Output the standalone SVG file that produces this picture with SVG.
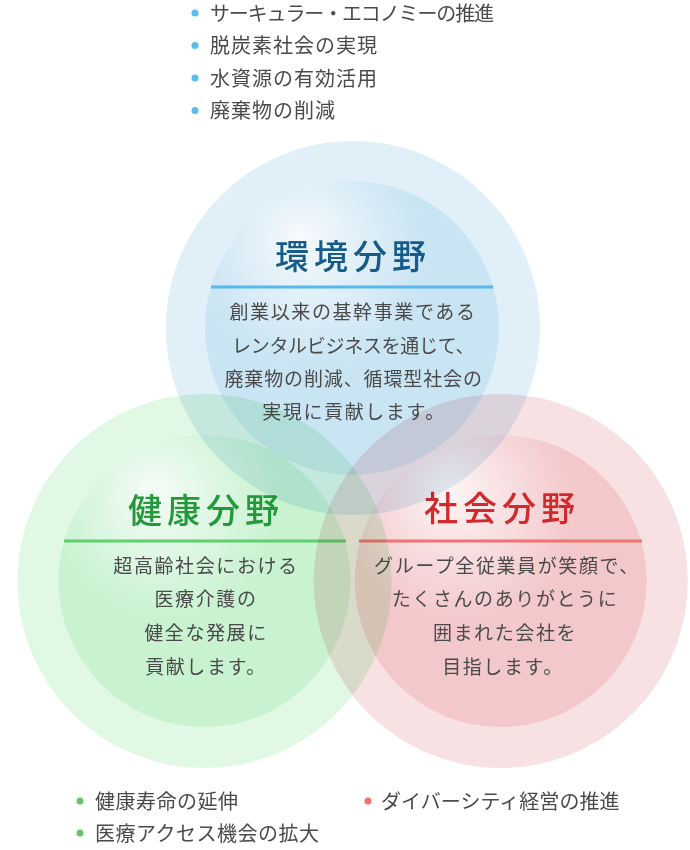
<svg xmlns="http://www.w3.org/2000/svg" width="690" height="850" viewBox="0 0 690 850">
<defs>
<radialGradient id="gBlue" cx="0.4" cy="0.3" r="0.65" fx="0.32" fy="0.18">
<stop offset="0" stop-color="#f6fafd"/>
<stop offset="0.6" stop-color="#c9e4f3"/>
<stop offset="1" stop-color="#c9e4f3"/>
</radialGradient>
<radialGradient id="gGreen" cx="0.4" cy="0.3" r="0.65" fx="0.32" fy="0.18">
<stop offset="0" stop-color="#f5fcf6"/>
<stop offset="0.6" stop-color="#c8f2d0"/>
<stop offset="1" stop-color="#c8f2d0"/>
</radialGradient>
<radialGradient id="gRed" cx="0.4" cy="0.3" r="0.65" fx="0.32" fy="0.18">
<stop offset="0" stop-color="#fdf5f5"/>
<stop offset="0.6" stop-color="#f3c8cb"/>
<stop offset="1" stop-color="#f3c8cb"/>
</radialGradient>
</defs>
<style>
text{font-family:'Noto Sans CJK JP','Noto Sans',sans-serif;}
.node{mix-blend-mode:multiply;}
.title{font-size:34px;font-weight:500;letter-spacing:5px;text-anchor:middle;}
.body{font-size:19px;fill:#4a4a4a;letter-spacing:1.6px;text-anchor:middle;}
.li{font-size:20px;fill:#4a4a4a;letter-spacing:1px;}
.lb{font-size:20px;fill:#4a4a4a;letter-spacing:0.5px;}
</style>
<rect width="690" height="850" fill="#ffffff"/>

<g id="health" class="node">
<circle cx="204.5" cy="581" r="187" fill="#e0f8e4"/>
<circle cx="204.5" cy="581" r="146" fill="url(#gGreen)"/>
<text class="title" x="206" y="523" fill="#229a3a">健康分野</text>
<rect x="64" y="539.5" width="282" height="3" fill="#5fd06e"/>
<text class="body" x="206" y="573">超高齢社会における</text>
<text class="body" x="206" y="606">医療介護の</text>
<text class="body" x="206" y="640">健全な発展に</text>
<text class="body" x="206" y="674">貢献します。</text>
</g>

<g id="social" class="node">
<circle cx="500.7" cy="581" r="187" fill="#f8e1e2"/>
<circle cx="500.7" cy="581" r="146" fill="url(#gRed)"/>
<text class="title" x="502" y="521" fill="#d3282c">社会分野</text>
<rect x="359" y="539.5" width="283" height="3" fill="#f07373"/>
<text class="body" x="507" y="573">グループ全従業員が笑顔で、</text>
<text class="body" x="505" y="606">たくさんのありがとうに</text>
<text class="body" x="505" y="640">囲まれた会社を</text>
<text class="body" x="503" y="674">目指します。</text>
</g>

<g id="environment" class="node">
<circle cx="353" cy="328" r="187" fill="#e1eff9"/>
<circle cx="352" cy="328" r="147" fill="url(#gBlue)"/>
<text class="title" x="353" y="269" fill="#165b8a">環境分野</text>
<rect x="211" y="285.5" width="282" height="3" fill="#55b8ee"/>
<text class="body" x="353" y="319">創業以来の基幹事業である</text>
<text class="body" x="354" y="353" textLength="244" lengthAdjust="spacing">レンタルビジネスを通じて、</text>
<text class="body" x="354" y="386" textLength="259" lengthAdjust="spacing">廃棄物の削減、循環型社会の</text>
<text class="body" x="354" y="419">実現に貢献します。</text>
</g>

<g id="env-list">
<circle cx="195" cy="13" r="3.5" fill="#5bbcef"/>
<text class="li" x="210" y="21" textLength="285" lengthAdjust="spacing">サーキュラー・エコノミーの推進</text>
<circle cx="195" cy="45.5" r="3.5" fill="#5bbcef"/>
<text class="li" x="210" y="53">脱炭素社会の実現</text>
<circle cx="195" cy="78" r="3.5" fill="#5bbcef"/>
<text class="li" x="210" y="85.5">水資源の有効活用</text>
<circle cx="195" cy="110.5" r="3.5" fill="#5bbcef"/>
<text class="li" x="210" y="118">廃棄物の削減</text>
</g>

<g id="health-list">
<circle cx="80" cy="801" r="3.5" fill="#6cbf6c"/>
<text class="lb" x="95" y="808.5">健康寿命の延伸</text>
<circle cx="80" cy="833" r="3.5" fill="#6cbf6c"/>
<text class="lb" x="95" y="840.5">医療アクセス機会の拡大</text>
</g>

<g id="social-list">
<circle cx="368" cy="801" r="3.5" fill="#f07070"/>
<text class="lb" x="381" y="808.5" textLength="239" lengthAdjust="spacing">ダイバーシティ経営の推進</text>
</g>
</svg>
